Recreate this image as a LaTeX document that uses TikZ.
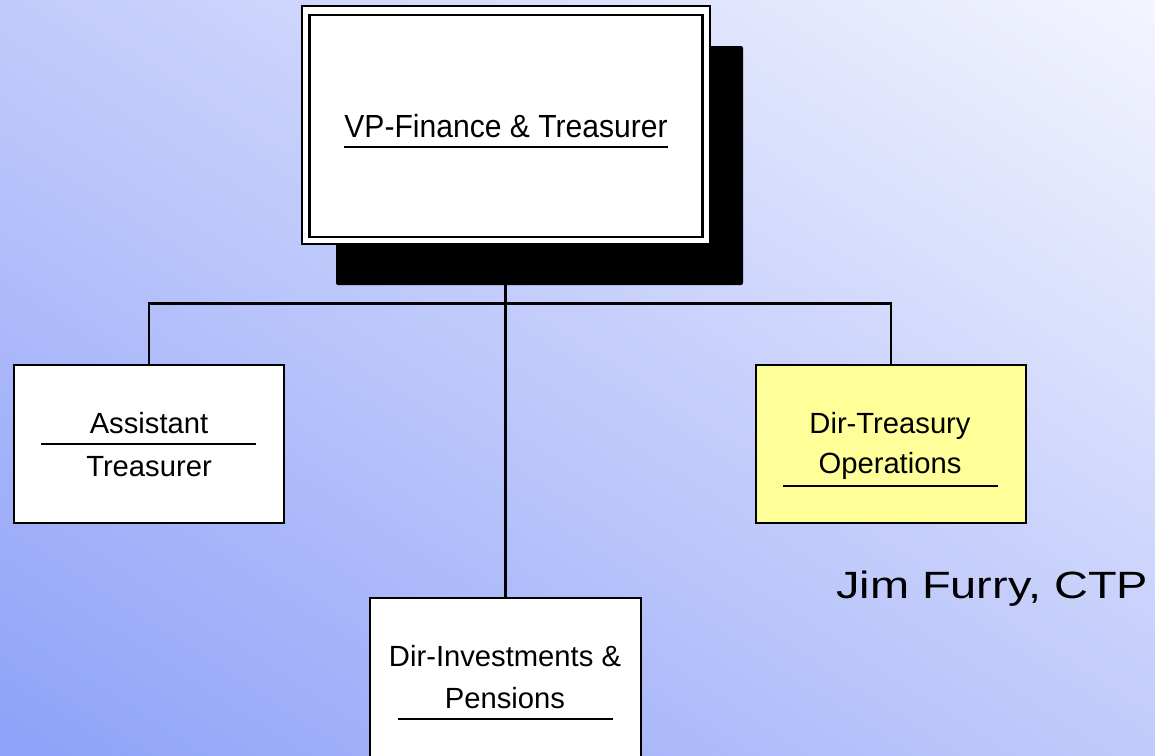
\documentclass[tikz,border=0pt]{standalone}
\usepackage{fontspec}
\setmainfont{Liberation Sans}
\usepackage{graphicx}
\definecolor{bgdark}{RGB}{142,161,248}
\definecolor{bglight}{RGB}{244,245,254}
\definecolor{opsyellow}{RGB}{255,255,153}
\tikzset{
  orgbox/.style={draw=black, line width=2.4pt, fill=white, minimum width=270pt, minimum height=158pt, inner sep=0pt},
  link/.style={draw=black, line width=2.4pt},
  rule/.style={draw=black, line width=2.6pt},
  boxtext/.style={anchor=base, inner sep=0pt, font=\fontsize{29.2}{34}\selectfont},
}
\begin{document}
\begin{tikzpicture}[x=1pt, y=-1pt]
  \useasboundingbox (0,0) rectangle (1155,755);
  % diagonal background gradient, built from narrow bands
  \begin{scope}
    \clip (0,0) rectangle (1155,755);
    \begin{scope}[shift={(577.5,377.5)}, rotate=57]
      \foreach \i in {0,...,139} {
        \pgfmathsetmacro{\ta}{-700+\i*10}
        \pgfmathsetmacro{\tb}{\ta+10.6}
        \pgfmathsetmacro{\p}{max(0,min(100,(\ta+5+631)/12.62))}
        \fill[bglight!\p!bgdark] (\ta,-800) rectangle (\tb,800);
      }
    \end{scope}
  \end{scope}

  % boxes
  \node[orgbox, minimum width=406pt, minimum height=236pt, draw=none, fill=none] (vp) at (506,125) {};
  \node[orgbox] (asst) at (149,444) {};
  \node[orgbox, fill=opsyellow] (ops) at (891,444) {};
  \node[orgbox, minimum width=271pt, minimum height=162pt] (inv) at (505.5,679) {};

  % connectors
  \coordinate (bus) at (505.5,303.5);
  \draw[link] (vp.south -| bus) -- (inv.north);
  \draw[link] (asst.north) |- (bus) -| (ops.north);
  % box borders drawn again over the connector ends
  \node[orgbox, fill=none] at (asst) {};
  \node[orgbox, fill=none] at (ops) {};
  \node[orgbox, minimum width=271pt, minimum height=162pt, fill=none] at (inv) {};

  % top box with drop shadow and double frame
  \fill[black, rounded corners=2pt] (336,46) rectangle (743,285);
  \draw[fill=white, line width=2pt] (vp.north west) rectangle (vp.south east);
  \draw[line width=2.3pt] (309.5,15) rectangle (702.5,237);

  % labels
  \node[boxtext, font=\fontsize{32}{38}\selectfont] (vpt) at (506,137) {\scalebox{0.94}[1]{VP-Finance \& Treasurer}};
  \draw[rule] (344,147) -- (668,147);

  \node[boxtext] (asst1) at (149,433) {Assistant};
  \draw[rule] (41,444) -- (256,444);
  \node[boxtext] (asst2) at (149,476) {Treasurer};

  \node[boxtext] (ops1) at (890,433) {Dir-Treasury};
  \node[boxtext] (ops2) at (890,473) {Operations};
  \draw[rule] (783,486) -- (998,486);

  \node[boxtext] (inv1) at (505,666) {Dir-Investments \&};
  \node[boxtext] (inv2) at (505,708) {Pensions};
  \draw[rule] (398,719) -- (613,719);

  \node[anchor=base west, inner sep=0pt, font=\fontsize{38}{44}\selectfont] (sig) at (836,598) {\scalebox{1.235}[1]{Jim Furry, CTP}};
\end{tikzpicture}
\end{document}
